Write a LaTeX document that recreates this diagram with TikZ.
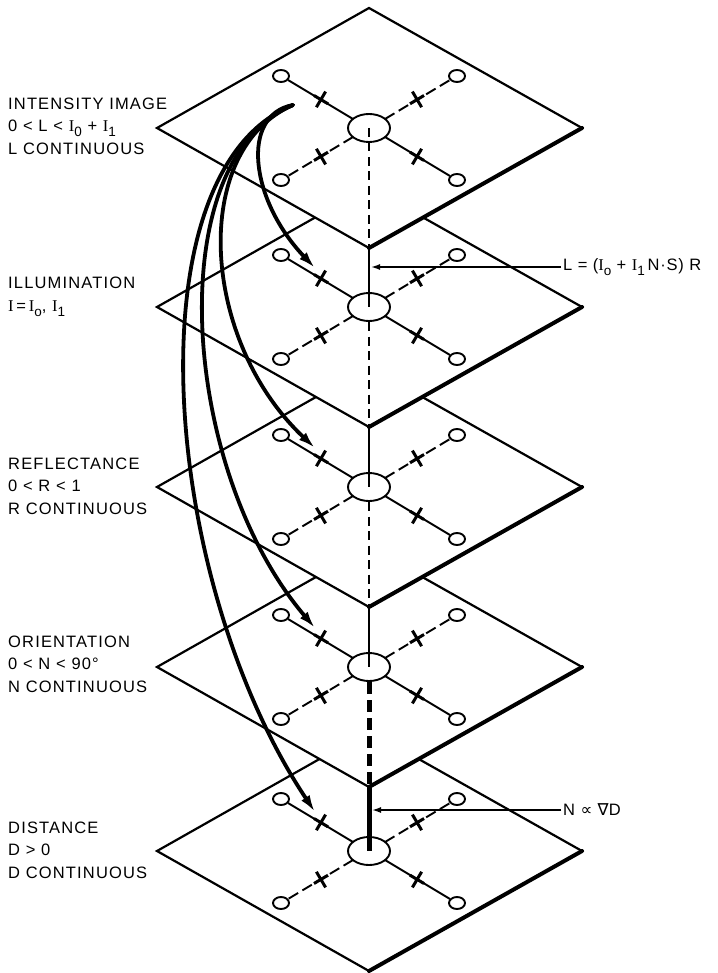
\documentclass[tikz,border=0pt]{standalone}
\usepackage{fontspec}
\setmainfont{Liberation Sans}
\newfontfamily\serifI{Liberation Serif}
\newfontfamily\symbfont{DejaVu Sans}
\usetikzlibrary{arrows.meta,calc}

\newcommand{\bI}{{\serifI I}}
\newcommand{\lowsub}[1]{\raisebox{-5pt}{\fontsize{13.5}{13.5}\selectfont #1}}

\begin{document}
\begin{tikzpicture}[x=1pt,y=-1pt,
  plane/.style={fill=white,draw,line width=2.2pt,line join=miter},
  rim/.style={line width=4pt,line cap=round},
  spoke/.style={line width=1.9pt},
  dspoke/.style={line width=1.9pt,dash pattern=on 11pt off 5pt},
  tick/.style={line width=3pt},
  axis/.style={line width=2.1pt},
  daxis/.style={line width=2.1pt,dash pattern=on 9pt off 5.5pt},
  flow/.style={line width=3.8pt,line cap=round,-{Latex[length=17pt,width=10pt]}},
  note/.style={line width=1.5pt,-{Latex[length=9pt,width=6pt]}},
  lbl/.style={anchor=west,align=left,inner sep=0pt,
    font=\fontsize{16.5}{22.6}\selectfont\addfontfeature{LetterSpace=7}},
  eq/.style={anchor=west,inner sep=2pt,
    font=\fontsize{16.5}{22.6}\selectfont\addfontfeature{LetterSpace=5}}]

  \fill[white] (0,0) rectangle (717,973);

  % the five planes, from the bottom one up
  \foreach \i/\cy in {5/851,4/667,3/487,2/307,1/128}{
    \coordinate (c\i) at (369,\cy);
    \coordinate (e\i) at (369,\cy+15);
    \coordinate (t\i) at (369,\cy-120);
    \coordinate (r\i) at (582,\cy);
    \coordinate (b\i) at (369,\cy+120);
    \coordinate (l\i) at (157,\cy);
    \draw[plane] (t\i) -- (r\i) -- (b\i) -- (l\i) -- cycle;
    \draw[rim] (r\i) -- (b\i);
    \draw[spoke] (c\i) ellipse [x radius=21pt,y radius=14pt];
    \foreach \sx/\sy/\st in {-1/-1/spoke,1/-1/dspoke,-1/1/dspoke,1/1/spoke}{
      \draw[\st] ($(c\i)+(16*\sx,9*\sy)$) -- ($(c\i)+(81*\sx,48*\sy)$);
      \draw[spoke] ($(c\i)+(88*\sx,52*\sy)$) ellipse [x radius=8pt,y radius=6pt];
      \draw[tick] ($(c\i)+(48*\sx+4.6*\sy,28.6*\sy-7.8*\sx)$) -- ($(c\i)+(48*\sx-4.6*\sy,28.6*\sy+7.8*\sx)$);
      \draw[tick] ($(c\i)+(41*\sx,24.2*\sy)$) -- ($(c\i)+(55*\sx,32.5*\sy)$);
    }
    \coordinate (in\i) at (315,\cy-39);
  }

  % line through the centres
  \draw[daxis] (c1) -- (b1);
  \draw[axis] (b1) -- (c2);
  \draw[daxis] (e2) -- (b2);
  \draw[axis] (b2) -- (c3);
  \draw[daxis] (e3) -- (b3);
  \draw[axis] (b3) -- (c4);
  \draw[daxis,line width=5pt,dash pattern=on 12pt off 6pt] (e4) -- (b4);
  \draw[axis,line width=5pt] (b4) -- (c5);

  % labels
  \node[lbl] (lab1) at (8,126) {INTENSITY IMAGE\\0 < L < \bI\lowsub{0} + \bI\lowsub{1}\\L CONTINUOUS};
  \node[lbl] (lab2) at (8,297) {ILLUMINATION\\\bI\,=\,\bI\lowsub{o}, \bI\lowsub{1}};
  \node[lbl] (lab3) at (8,486) {REFLECTANCE\\0 < R < 1\\R CONTINUOUS};
  \node[lbl] (lab4) at (8,664) {ORIENTATION\\0 < N < 90°\\N CONTINUOUS};
  \node[lbl] (lab5) at (8,850) {DISTANCE\\D > 0\\D CONTINUOUS};

  % arrows from the image plane
  \coordinate (src) at (293,105);
  \draw[flow] (src) .. controls (240,115) and (250,200) .. (in2);
  \draw[flow] (src) .. controls (190,150) and (200,340) .. (in3);
  \draw[flow] (src) .. controls (160,160) and (180,470) .. (in4);
  \draw[flow] (src) .. controls (130,170) and (160,580) .. (in5);

  % relations
  \node[eq] (eqL) at (561,267) {L = (\bI\lowsub{o} + \bI\lowsub{1}\,N·S) R};
  \coordinate (ax2) at (371,267);
  \draw[note] (eqL) -- (ax2);
  \node[eq] (eqN) at (561,810) {N {\symbfont ∝} {\symbfont ∇}D};
  \coordinate (ax5) at (372,810);
  \draw[note] (eqN) -- (ax5);
\end{tikzpicture}
\end{document}
